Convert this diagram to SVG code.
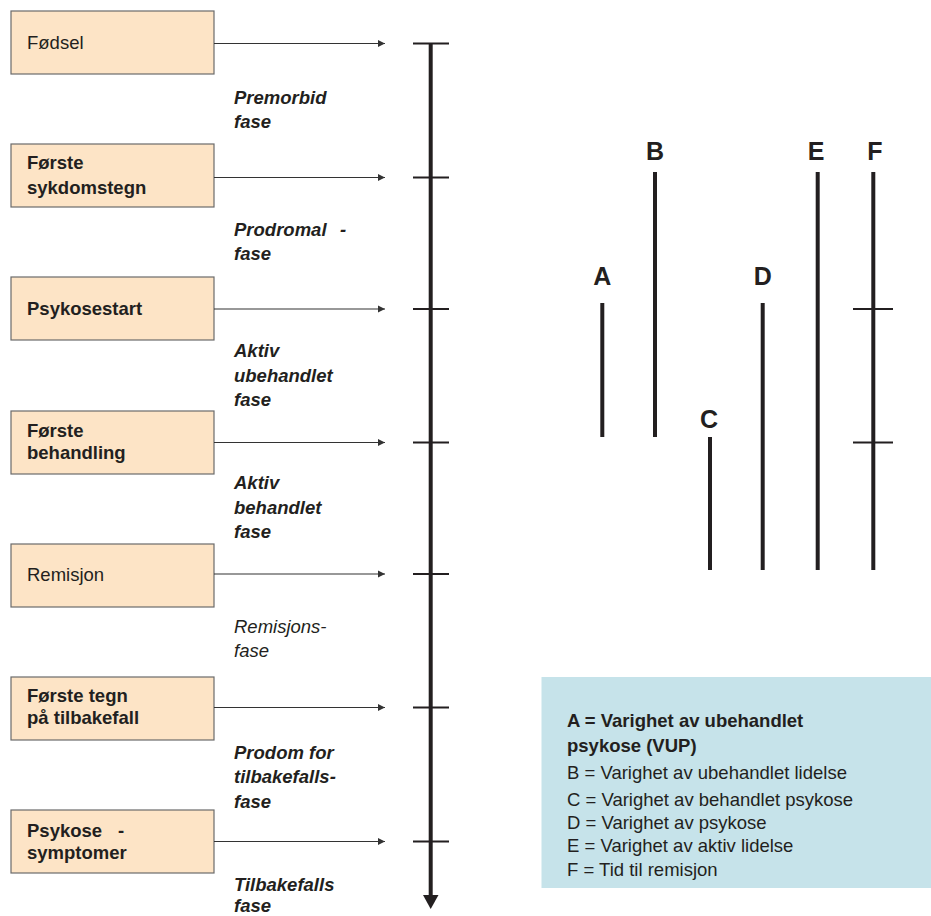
<svg xmlns="http://www.w3.org/2000/svg" width="931" height="916" viewBox="0 0 931 916">
<style>
.box{fill:#fde4c6;stroke:#6b6b6b;stroke-width:1.2}
.bt{font-family:"Liberation Sans",Arial,sans-serif;font-size:18.5px;fill:#231f20}
.b{font-weight:bold}
.ph{font-family:"Liberation Sans",Arial,sans-serif;font-size:18.5px;font-style:italic;fill:#231f20}
.conn{stroke:#333;stroke-width:1.2;fill:none}
.tick{stroke:#231f20;stroke-width:2}
.bar{stroke:#231f20;stroke-width:4}
.lbl{font-family:"Liberation Sans",Arial,sans-serif;font-size:25px;font-weight:bold;fill:#231f20;text-anchor:middle}
.leg{font-family:"Liberation Sans",Arial,sans-serif;font-size:18.5px;fill:#231f20}
</style>
<defs>
<marker id="ah" markerWidth="8" markerHeight="8" refX="7" refY="4" orient="auto" markerUnits="userSpaceOnUse">
<path d="M0,0.5 L7,4 L0,7.5 z" fill="#333"/>
</marker>
</defs>
<rect width="931" height="916" fill="#fff"/>

<g id="node-fodsel"><rect class="box" x="11" y="11" width="203" height="63"/><text class="bt" x="27" y="49">Fødsel</text></g>
<g id="node-forste-sykdomstegn"><rect class="box" x="11" y="144" width="203" height="63"/><text class="bt b" x="27" y="169">Første</text><text class="bt b" x="27" y="194">sykdomstegn</text></g>
<g id="node-psykosestart"><rect class="box" x="11" y="277" width="203" height="63"/><text class="bt b" x="27" y="315">Psykosestart</text></g>
<g id="node-forste-behandling"><rect class="box" x="11" y="411" width="203" height="63"/><text class="bt b" x="27" y="437">Første</text><text class="bt b" x="27" y="459">behandling</text></g>
<g id="node-remisjon"><rect class="box" x="11" y="544" width="203" height="63"/><text class="bt" x="27" y="581">Remisjon</text></g>
<g id="node-forste-tegn"><rect class="box" x="11" y="677" width="203" height="63"/><text class="bt b" x="27" y="702">Første tegn</text><text class="bt b" x="27" y="724">på tilbakefall</text></g>
<g id="node-psykose-symptomer"><rect class="box" x="11" y="810" width="203" height="63"/><text class="bt b" x="27" y="837">Psykose<tspan x="118">-</tspan></text><text class="bt b" x="27" y="859">symptomer</text></g>

<g id="connectors">
<line class="conn" x1="214" y1="43.5" x2="385" y2="43.5" marker-end="url(#ah)"/>
<line class="conn" x1="214" y1="177.5" x2="385" y2="177.5" marker-end="url(#ah)"/>
<line class="conn" x1="214" y1="309" x2="385" y2="309" marker-end="url(#ah)"/>
<line class="conn" x1="214" y1="442.5" x2="385" y2="442.5" marker-end="url(#ah)"/>
<line class="conn" x1="214" y1="574" x2="385" y2="574" marker-end="url(#ah)"/>
<line class="conn" x1="214" y1="707.5" x2="385" y2="707.5" marker-end="url(#ah)"/>
<line class="conn" x1="214" y1="841.5" x2="385" y2="841.5" marker-end="url(#ah)"/>
</g>

<g id="timeline">
<line x1="430.7" y1="43" x2="430.7" y2="898" stroke="#231f20" stroke-width="4"/>
<path d="M423,895 L438.5,895 L430.7,909 z" fill="#231f20"/>
<line class="tick" x1="413" y1="43.5" x2="449" y2="43.5"/>
<line class="tick" x1="413" y1="177.5" x2="449" y2="177.5"/>
<line class="tick" x1="413" y1="309" x2="449" y2="309"/>
<line class="tick" x1="413" y1="442.5" x2="449" y2="442.5"/>
<line class="tick" x1="413" y1="574" x2="449" y2="574"/>
<line class="tick" x1="413" y1="707.5" x2="449" y2="707.5"/>
<line class="tick" x1="413" y1="841.5" x2="449" y2="841.5"/>
</g>

<g id="phases">
<text class="ph b" x="234" y="104">Premorbid</text><text class="ph b" x="234" y="128">fase</text>
<text class="ph b" x="234" y="236">Prodromal<tspan x="340">-</tspan></text><text class="ph b" x="234" y="260">fase</text>
<text class="ph b" x="234" y="357">Aktiv</text><text class="ph b" x="234" y="382">ubehandlet</text><text class="ph b" x="234" y="406">fase</text>
<text class="ph b" x="234" y="489">Aktiv</text><text class="ph b" x="234" y="514">behandlet</text><text class="ph b" x="234" y="538">fase</text>
<text class="ph" x="234" y="633">Remisjons-</text><text class="ph" x="234" y="657">fase</text>
<text class="ph b" x="234" y="759">Prodom for</text><text class="ph b" x="234" y="783">tilbakefalls-</text><text class="ph b" x="234" y="808">fase</text>
<text class="ph b" x="234" y="891">Tilbakefalls</text><text class="ph b" x="234" y="912">fase</text>
</g>

<g id="durations">
<text class="lbl" x="602.3" y="285">A</text><line class="bar" x1="602.3" y1="303" x2="602.3" y2="437"/>
<text class="lbl" x="655" y="160">B</text><line class="bar" x1="655" y1="172" x2="655" y2="437"/>
<text class="lbl" x="709" y="428">C</text><line class="bar" x1="710" y1="437" x2="710" y2="570"/>
<text class="lbl" x="762.7" y="285">D</text><line class="bar" x1="762.7" y1="303" x2="762.7" y2="570"/>
<text class="lbl" x="816" y="160">E</text><line class="bar" x1="817.7" y1="172" x2="817.7" y2="570"/>
<text class="lbl" x="875" y="160">F</text><line class="bar" x1="873.3" y1="172" x2="873.3" y2="570"/>
<line class="tick" x1="853" y1="309" x2="893" y2="309"/>
<line class="tick" x1="853" y1="442.5" x2="893" y2="442.5"/>
</g>

<g id="legend">
<rect x="541.5" y="677" width="389.5" height="211" fill="#c6e3ea"/>
<text class="leg b" x="567" y="727">A = Varighet av ubehandlet</text>
<text class="leg b" x="567" y="752">psykose (VUP)</text>
<text class="leg" x="567" y="779">B = Varighet av ubehandlet lidelse</text>
<text class="leg" x="567" y="806">C = Varighet av behandlet psykose</text>
<text class="leg" x="567" y="829">D = Varighet av psykose</text>
<text class="leg" x="567" y="852">E = Varighet av aktiv lidelse</text>
<text class="leg" x="567" y="876">F = Tid til remisjon</text>
</g>
</svg>
